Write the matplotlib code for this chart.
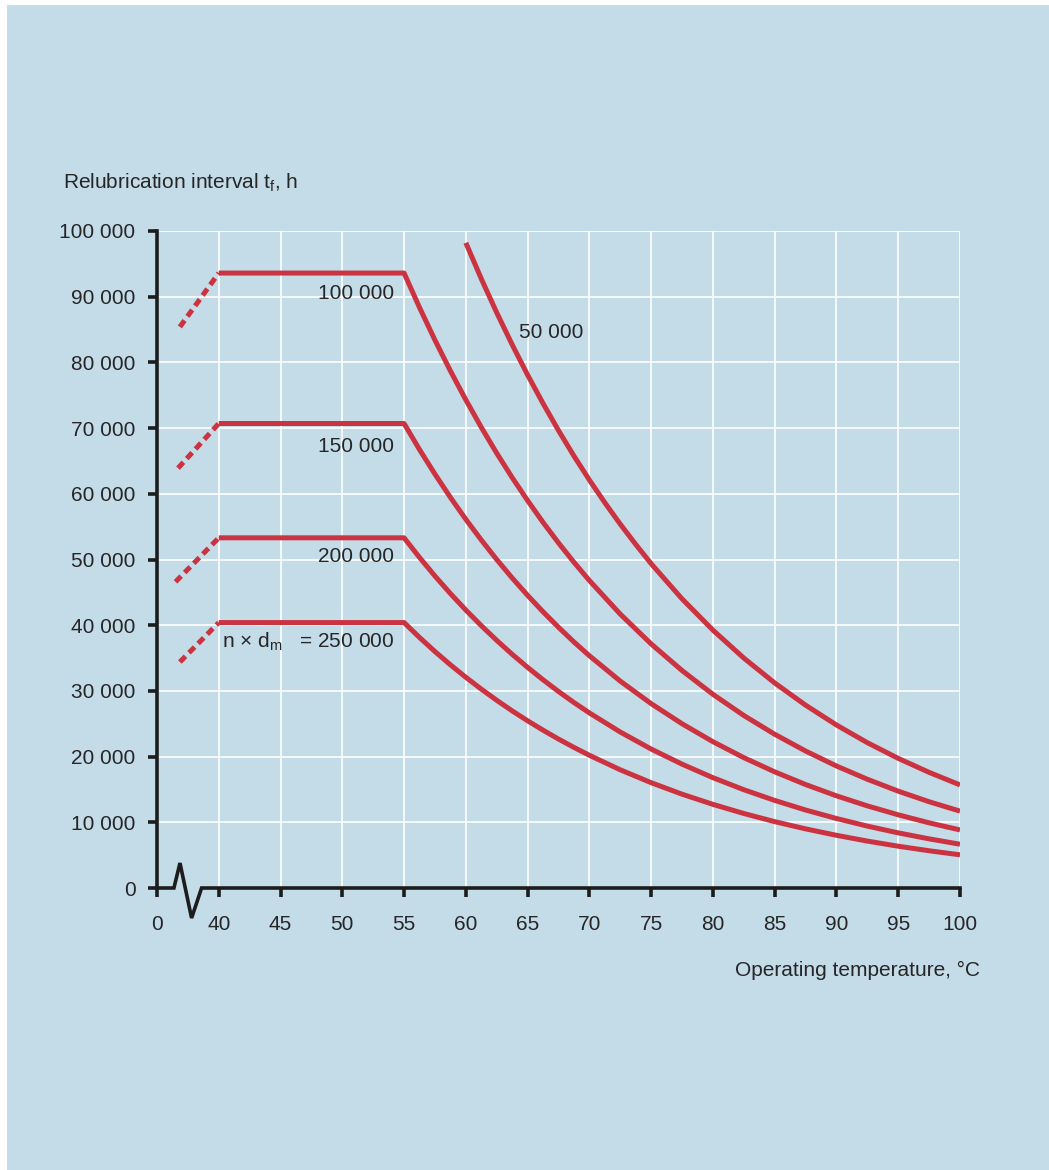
import matplotlib
matplotlib.use("Agg")
import matplotlib.pyplot as plt
from matplotlib.patches import Rectangle

plt.rcParams['font.family'] = ['Liberation Sans', 'DejaVu Sans']
plt.rcParams['mathtext.fontset'] = 'custom'
plt.rcParams['mathtext.rm'] = 'Liberation Sans'

# operating temperature grid (the "0" tick sits where 35 would be, axis is broken)
temps = [55, 56.25, 57.5, 58.75, 60, 61.25, 62.5, 63.75, 65, 66.25, 67.5, 68.75, 70,
         72.5, 75, 77.5, 80, 82.5, 85, 87.5, 90, 92.5, 95, 97.5, 100]
temps_50k = [60, 61.25, 62.5, 63.75, 65, 66.25, 67.5, 68.75, 70, 71.25, 72.5, 73.75, 75,
             77.5, 80, 82.5, 85, 87.5, 90, 92.5, 95, 97.5, 100]

# relubrication interval, h, for each n x dm value
t_100k = [93600, 88350, 83390, 78710, 74290, 70120, 66180, 62470, 58970, 55650, 52530, 49580, 46800,
          41690, 37150, 33100, 29480, 26260, 23400, 20850, 18570, 16550, 14740, 13130, 11700]
t_150k = [70700, 66730, 62990, 59450, 56110, 52970, 49990, 47190, 44540, 42040, 39680, 37450, 35350,
          31490, 28060, 25000, 22270, 19840, 17680, 15750, 14030, 12500, 11140, 9920, 8840]
t_200k = [53300, 50310, 47480, 44820, 42300, 39930, 37690, 35570, 33580, 31690, 29910, 28230, 26650,
          23740, 21150, 18850, 16790, 14960, 13330, 11870, 10580, 9420, 8390, 7480, 6660]
t_250k = [40400, 38130, 35990, 33970, 32070, 30270, 28570, 26960, 25450, 24020, 22670, 21400, 20200,
          17990, 16030, 14280, 12730, 11340, 10100, 9000, 8020, 7140, 6360, 5670, 5050]
t_50k = [98200, 92730, 87570, 82700, 78090, 73750, 69640, 65760, 62100, 58650, 55380, 52300, 49360,
         44010, 39250, 35000, 31210, 27830, 24810, 22120, 19730, 17600, 15690]

# dashed run-in below 40 °C: (start temp, start value)
dash_start = {
    '100 000': (36.85, 85400),
    '150 000': (36.7, 63900),
    '200 000': (36.5, 46600),
    '250 000': (36.85, 34400),
}

xticks = [35, 40, 45, 50, 55, 60, 65, 70, 75, 80, 85, 90, 95, 100]
xticklabels = ['0', '40', '45', '50', '55', '60', '65', '70', '75', '80', '85', '90', '95', '100']
yticks = list(range(0, 100001, 10000))
yticklabels = ['0' if v == 0 else f'{v // 1000} 000' for v in yticks]

BG = '#c4dbe8'
RED = '#cc3340'
INK = '#1c1c1c'
TXT = '#262626'
FS = 15

W, H = 1049, 1170
fig = plt.figure(figsize=(W / 100, H / 100), dpi=100, facecolor='white')
fig.patches.append(Rectangle((7 / W, 0), 1, 1 - 5 / H, transform=fig.transFigure,
                             facecolor=BG, edgecolor='none', zorder=-10))

ax = fig.add_axes([157 / W, 1 - 888 / H, (960 - 157) / W, (888 - 231) / H])
ax.set_facecolor(BG)
ax.set_xlim(35, 100)
ax.set_ylim(0, 100000)

# white grid, only over the unbroken part of the temperature axis
for x in xticks[1:]:
    ax.plot([x, x], [0, 100000], color='white', lw=1.2, zorder=1)
for y in yticks[1:]:
    ax.plot([35, 100], [y, y], color='white', lw=1.2, zorder=1)

for key, vals in [('100 000', t_100k), ('150 000', t_150k),
                  ('200 000', t_200k), ('250 000', t_250k)]:
    ax.plot([40] + temps, [vals[0]] + vals, color=RED, lw=3.6,
            solid_joinstyle='round', solid_capstyle='butt', zorder=3)
    x0, y0 = dash_start[key]
    ax.plot([x0, 40], [y0, vals[0]], color=RED, lw=3.6,
            linestyle=(0, (1.6, 1.0)), dash_capstyle='butt', zorder=3)
ax.plot(temps_50k, t_50k, color=RED, lw=3.6, solid_joinstyle='round',
        solid_capstyle='butt', zorder=3)

# axes: left spine kept, bottom line drawn with the break symbol
for s in ['top', 'right', 'bottom']:
    ax.spines[s].set_visible(False)
ax.spines['left'].set_color(INK)
ax.spines['left'].set_linewidth(2.6)
ax.plot([35, 36.37, 36.86, 37.8, 38.61, 100], [0, 0, 3800, -4570, 0, 0],
        color=INK, lw=2.6, clip_on=False, zorder=4, solid_joinstyle='miter')

ax.set_xticks(xticks)
ax.set_xticklabels(xticklabels)
ax.set_yticks(yticks)
ax.set_yticklabels(yticklabels)
ax.tick_params(axis='both', direction='out', length=6.5, width=2.6, color=INK,
               labelsize=FS, labelcolor=TXT)
ax.tick_params(axis='x', pad=13)
ax.tick_params(axis='y', pad=9)

# curve labels
lab = dict(fontsize=FS, color=TXT, ha='right', va='center')
ax.text(54.2, 90500, '100 000', **lab)
ax.text(54.2, 67200, '150 000', **lab)
ax.text(54.2, 50400, '200 000', **lab)
ax.text(54.2, 37500, r'n $\times$ d$_{\mathregular{m}}$   = 250 000', **lab)
ax.text(64.3, 84500, '50 000', fontsize=FS, color=TXT, ha='left', va='center')

fig.text(63 / W, 1 - 183 / H, r'Relubrication interval t$_{\mathregular{f}}$, h',
         fontsize=FS, color=TXT, ha='left', va='center')
fig.text(980 / W, 1 - 970 / H, 'Operating temperature, °C',
         fontsize=FS, color=TXT, ha='right', va='center')

fig.savefig('out.png', dpi=100, facecolor='white')
